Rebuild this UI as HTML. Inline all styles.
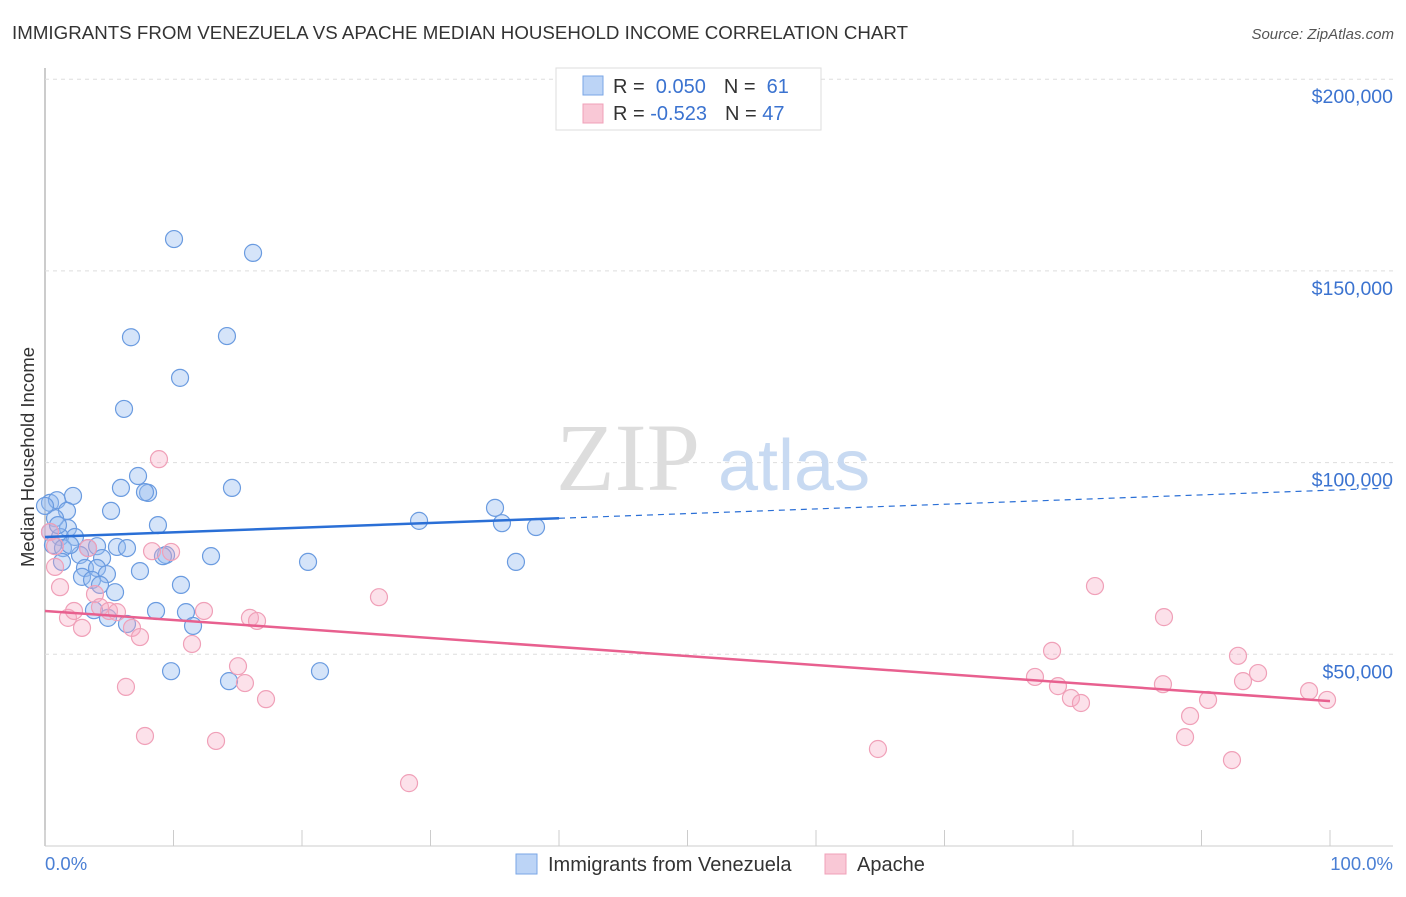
<!DOCTYPE html>
<html><head><meta charset="utf-8"><style>
body{margin:0;background:#fff;font-family:"Liberation Sans",sans-serif}
</style></head><body>
<svg id="c" width="1406" height="892" xmlns="http://www.w3.org/2000/svg" style="font-family:'Liberation Sans',sans-serif">
<text x="12" y="39" font-size="18.7" fill="#333" textLength="896">IMMIGRANTS FROM VENEZUELA VS APACHE MEDIAN HOUSEHOLD INCOME CORRELATION CHART</text>
<text x="1394" y="39" font-size="15" fill="#555" font-style="italic" text-anchor="end">Source: ZipAtlas.com</text>
<g id="grid"></g>
<text x="700" y="490" font-size="96" fill="#ddd" text-anchor="end" font-family="Liberation Serif">ZIP</text>
<text x="718" y="490" font-size="72" fill="#c8daf2">atlas</text>
<text transform="translate(34,457) rotate(-90)" font-size="18.5" fill="#333" text-anchor="middle">Median Household Income</text>
<text x="45" y="870" font-size="18.5" fill="#4a7fd4">0.0%</text>
<text x="1393" y="870" font-size="18.5" fill="#4a7fd4" text-anchor="end">100.0%</text>
<g id="pts"></g>
<g>
<rect x="556" y="68" width="265" height="62" fill="#fff" stroke="#ddd"/>
<rect x="583" y="76" width="20" height="19" fill="#bcd4f6" stroke="#7aa6e6"/>
<rect x="583" y="104" width="20" height="19" fill="#f9c8d6" stroke="#f0a0b8"/>
<text x="613" y="93" font-size="20" fill="#333">R = <tspan fill="#3b73d0">&#160;0.050</tspan><tspan dx="18">N = </tspan><tspan fill="#3b73d0">&#160;61</tspan></text>
<text x="613" y="120" font-size="20" fill="#333">R = <tspan fill="#3b73d0">-0.523</tspan><tspan dx="18">N = </tspan><tspan fill="#3b73d0">47</tspan></text>
</g>
<g>
<rect x="516" y="854" width="21" height="20" fill="#bcd4f6" stroke="#7aa6e6"/>
<text x="548" y="871" font-size="20" fill="#333">Immigrants from Venezuela</text>
<rect x="825" y="854" width="21" height="20" fill="#f9c8d6" stroke="#f0a0b8"/>
<text x="857" y="871" font-size="20" fill="#333">Apache</text>
</g>
</svg>
<script>
const yTicks=[50000,100000,150000,200000];
const yTickLabels=["$50,000","$100,000","$150,000","$200,000"];
const blueX=[0.39,0.93,2.18,1.71,1.79,0.78,0.39,1.17,2.33,0.62,1.40,3.35,4.05,5.60,6.38,2.72,4.44,1.32,3.11,4.05,4.82,2.88,3.66,4.28,5.45,7.39,9.42,9.18,10.58,12.92,3.81,4.90,6.38,8.64,10.97,11.52,9.81,14.32,21.40,20.47,29.11,35.02,35.56,38.21,36.65,8.79,8.02,7.78,7.24,5.91,5.14,14.55,6.15,6.69,10.51,14.16,10.04,16.19,1.01,0.0,1.95];
const blueY=[89.5,90.2,91.3,87.4,82.9,85.5,81.9,80.6,80.6,78.5,77.7,77.7,78.2,78.0,77.7,75.9,75.1,74.1,72.5,72.5,70.9,70.2,69.4,68.1,66.2,71.7,75.9,75.6,68.1,75.6,61.5,59.5,57.9,61.3,61.0,57.4,45.6,43.0,45.6,74.1,84.8,88.2,84.2,83.2,74.1,83.7,92.1,92.3,96.5,93.4,87.4,93.4,114.0,132.7,122.1,133.0,158.3,154.7,83.7,88.7,78.5];
const pinkX=[0.39,0.78,0.78,1.17,1.79,2.26,2.88,3.89,4.28,3.35,4.98,5.60,6.77,7.39,6.30,7.78,8.33,9.81,8.87,12.37,11.44,15.02,15.56,15.95,16.50,17.20,13.31,25.99,28.33,64.82,77.04,78.37,78.83,79.84,80.62,81.71,87.00,87.08,89.11,88.72,90.51,92.84,92.37,93.23,94.40,98.37,99.77];
const pinkY=[81.9,78.2,72.8,67.5,59.5,61.3,56.9,65.7,62.3,77.7,61.3,61.0,56.9,54.5,41.5,28.7,76.9,76.7,100.9,61.3,52.7,46.9,42.5,59.5,58.7,38.3,27.4,64.9,16.4,25.3,44.1,50.9,41.7,38.6,37.3,67.8,42.2,59.7,33.9,28.4,38.1,49.6,22.4,43.0,45.1,40.4,38.1];
const blueTrend=[80.6,92.8];
const pinkTrend=[61.3,37.8];
const NS="http://www.w3.org/2000/svg";
const X=p=>45+p*12.85;
const Y=v=>846-v/50000*191.7;
function mk(t,a,parent){const e=document.createElementNS(NS,t);for(const k in a)e.setAttribute(k,a[k]);parent.appendChild(e);return e;}
const g=document.getElementById('grid');
let ax=mk('line',{x1:45,y1:68,x2:45,y2:846,stroke:'#bbb','stroke-width':1.5},g);


let xa=mk('line',{x1:45,y1:846,x2:1393,y2:846,stroke:'#ccc'},g);


for(let i=0;i<=10;i++){let t=mk('line',{x1:X(i*10),y1:830,x2:X(i*10),y2:846,stroke:'#ccc'},g);

}
yTicks.forEach((v,i)=>{let l=mk('line',{x1:45,y1:Y(v),x2:1393,y2:Y(v),stroke:'#ddd','stroke-dasharray':'4,4'},g);


let t=mk('text',{x:1393,y:Y(v)+24,'font-size':19.5,fill:'#3b73d0','text-anchor':'end'},g);t.textContent=yTickLabels[i];

});
const P=document.getElementById('pts');
blueX.forEach((x,i)=>{let c=mk('circle',{cx:X(x),cy:Y(blueY[i]*1000),r:8.5,fill:'rgba(150,188,240,0.4)',stroke:'#6a9be0','stroke-width':1.2},P);

});
pinkX.forEach((x,i)=>{let c=mk('circle',{cx:X(x),cy:Y(pinkY[i]*1000),r:8.5,fill:'rgba(245,170,195,0.35)',stroke:'#f0a0b8','stroke-width':1.2},P);

});
const bt=p=>(blueTrend[0]+(blueTrend[1]-blueTrend[0])*p/100)*1000;
let l1=mk('line',{x1:X(0),y1:Y(bt(0)),x2:X(40),y2:Y(bt(40)),stroke:'#2a6fd6','stroke-width':2.5},P);


let l2=mk('line',{x1:X(40),y1:Y(bt(40)),x2:1393,y2:Y(bt(104.9)),stroke:'#2a6fd6','stroke-width':1.2,'stroke-dasharray':'6,5'},P);


let l3=mk('line',{x1:X(0),y1:Y(pinkTrend[0]*1000),x2:X(100),y2:Y(pinkTrend[1]*1000),stroke:'#e8608f','stroke-width':2.5},P);


</script>
</body></html>
